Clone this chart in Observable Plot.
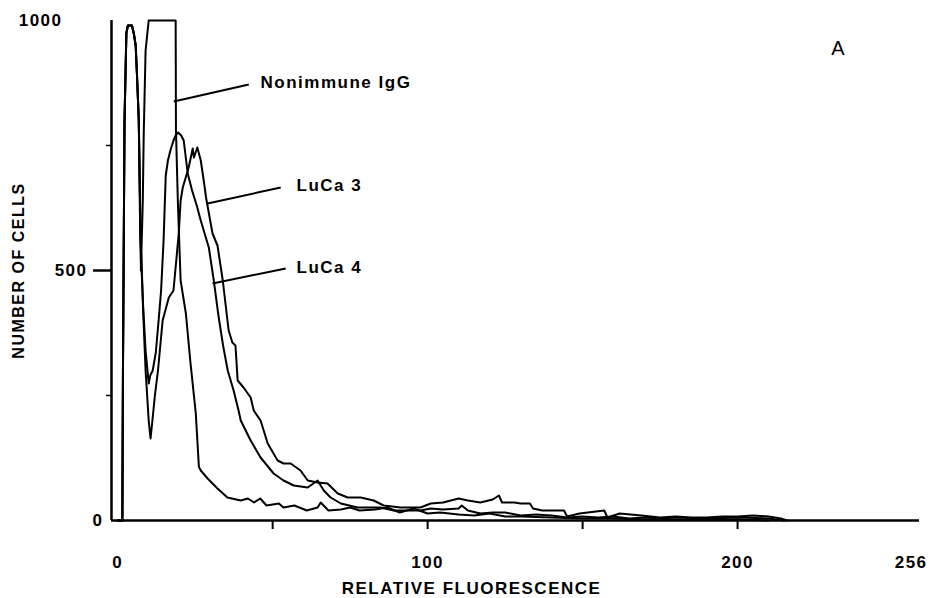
<!DOCTYPE html>
<html>
<head>
<meta charset="utf-8">
<script src="https://cdn.jsdelivr.net/npm/d3@7"></script>
<script src="https://cdn.jsdelivr.net/npm/@observablehq/plot@0.6"></script>
<style>
  html, body { margin: 0; padding: 0; background: #fff; }
  svg { display: block; }
</style>
</head>
<body>
<div id="chart"></div>
<script>
// ---- data (channel = relative fluorescence, count = number of cells) ----
const nonimmuneX = [0, 1.5, 1.7, 2.2, 2.8, 3.3, 4.6, 5.2, 5.8, 6.3, 6.8, 7.2, 7.5, 8.1, 8.4, 9, 10, 18.7, 18.8, 19.4, 20.3, 22, 23.5, 25.2, 26.2, 26.8, 29, 32.2, 35.4, 39.7, 42, 44, 46, 48, 52, 53.5, 57, 61, 64.5, 65.5, 68, 72, 75, 78, 83, 87, 91, 95.5, 100, 104, 110, 115, 120, 125, 130, 140, 150, 160, 170, 180, 190, 200, 210];
const nonimmuneY = [0, 0, 300, 800, 975, 990, 990, 974, 950, 880, 800, 600, 500, 640, 774, 940, 1000, 1000, 780, 640, 480, 414, 314, 214, 107, 100, 84, 64, 46, 40, 44, 36, 44, 30, 34, 26, 30, 20, 26, 36, 20, 22, 26, 20, 22, 26, 16, 24, 14, 16, 12, 10, 14, 8, 8, 6, 4, 4, 2, 2, 2, 2, 0];

const luca3X = [0, 1.5, 1.7, 2.2, 2.8, 3.3, 4.6, 5.2, 5.8, 6.3, 6.8, 7.4, 8.2, 9, 10, 10.6, 11.2, 12, 13, 14.5, 16.5, 18, 19.7, 20.3, 21, 22.9, 24.2, 24.6, 25.7, 26.8, 27.9, 28.5, 30.6, 32.2, 33.9, 35.8, 37, 38, 38.7, 40.6, 42.9, 43.9, 46.1, 48.4, 51.6, 53.5, 55.8, 59, 61.3, 64.5, 67.7, 71, 74.2, 78.4, 82.6, 85.8, 91.3, 97.7, 101, 105, 110, 113, 117, 121, 123, 124, 128, 130, 133, 134, 137, 144, 145, 149, 157, 158, 162, 169, 175, 180, 185, 190, 195, 200, 205, 210, 214, 216];
const luca3Y = [0, 0, 300, 800, 975, 990, 990, 974, 950, 880, 800, 560, 420, 300, 200, 164, 200, 250, 300, 400, 446, 460, 574, 640, 666, 706, 744, 726, 746, 720, 674, 646, 574, 550, 480, 380, 356, 350, 280, 266, 246, 220, 200, 154, 120, 114, 114, 100, 80, 76, 74, 54, 46, 46, 40, 30, 26, 26, 34, 36, 44, 40, 36, 42, 50, 36, 36, 34, 34, 24, 20, 20, 8, 14, 20, 6, 14, 10, 6, 8, 6, 6, 8, 8, 10, 8, 4, 0];

const luca4X = [0, 1.5, 1.7, 2.2, 2.8, 3.3, 4.6, 5.2, 5.8, 6.3, 6.8, 7.4, 8.2, 9, 10, 10.5, 11.3, 12.3, 13.2, 14, 14.8, 15.5, 16.2, 17, 18, 18.7, 19.5, 20.5, 21.3, 22.6, 24, 25.5, 26.8, 28, 29.4, 31, 32.5, 34, 35.5, 37.4, 39, 39.7, 42.9, 46.1, 50.3, 53.5, 56.8, 61.3, 64.5, 66.5, 68.7, 72, 77.4, 84.8, 89, 97.7, 101, 105, 110, 111, 113, 117, 121, 125, 130, 135, 140, 145, 150, 155, 160, 165, 170, 175, 180, 190, 200, 210, 215];
const luca4Y = [0, 0, 300, 800, 975, 990, 990, 974, 950, 880, 800, 560, 430, 340, 274, 290, 300, 336, 400, 460, 560, 690, 720, 740, 760, 770, 776, 770, 760, 694, 660, 630, 600, 575, 546, 480, 410, 350, 300, 260, 220, 200, 160, 126, 94, 80, 70, 66, 80, 60, 46, 34, 26, 26, 20, 20, 24, 22, 24, 30, 20, 14, 16, 16, 10, 12, 10, 6, 8, 6, 8, 4, 6, 4, 6, 4, 6, 4, 0];

const xTickValues = [0, 100, 200, 256];
const xMinorTicks = [50, 100, 150, 200];
const yTickValues = [1000, 500, 0];
const yMinorTicks = [250, 750];

const seriesNames = ["Nonimmune IgG", "LuCa 3", "LuCa 4"];
const labelX = [46.1, 57.7, 57.7];
const labelY = [876, 670, 506];
const leaderFromX = [18.1, 29.0, 30.6];
const leaderFromY = [838, 634, 474];
const leaderToX = [42.3, 52.6, 54.2];
const leaderToY = [872, 666, 504];

const panelLetter = "A";
const panelX = 232.6;
const panelY = 944;

// ---- build tables ----
const toRows = (name, xs, ys) => xs.map((x, i) => ({series: name, x, y: ys[i]}));
const rows = [
  ...toRows(seriesNames[0], nonimmuneX, nonimmuneY),
  ...toRows(seriesNames[1], luca3X, luca3Y),
  ...toRows(seriesNames[2], luca4X, luca4Y)
];
const labels = seriesNames.map((name, i) => ({name, x: labelX[i], y: labelY[i]}));
const leaders = seriesNames.map((name, i) => ({x1: leaderFromX[i], y1: leaderFromY[i], x2: leaderToX[i], y2: leaderToY[i]}));

const xDomain = [-2, 258.7];
const yDomain = [0, 1000];
const font = "'Liberation Sans', Arial, Helvetica, sans-serif";
const yLabelPad = [49, 24, 8];
const fmt = d => String(d);

const chart = Plot.plot({
  width: 934,
  height: 598,
  marginLeft: 111,
  marginRight: 15,
  marginTop: 20,
  marginBottom: 78,
  style: {fontFamily: font, background: "#fff", color: "#000", letterSpacing: "1.5px"},
  x: {domain: xDomain, axis: null},
  y: {domain: yDomain, axis: null},
  marks: [
    // axes lines
    Plot.ruleX([xDomain[0]], {y1: yDomain[0], y2: yDomain[1], stroke: "#000", strokeWidth: 2.5}),
    Plot.ruleY([yDomain[0]], {x1: xDomain[0], x2: xDomain[1], stroke: "#000", strokeWidth: 2.5}),
    // y ticks
    Plot.axisY([500], {anchor: "left", tickSize: 18, tickFormat: () => "", strokeWidth: 2.5, label: null}),
    Plot.axisY(yMinorTicks, {anchor: "left", tickSize: 5, tickFormat: () => "", strokeWidth: 1.5, label: null}),
    ...yTickValues.map((v, i) => Plot.axisY([v], {anchor: "left", tickSize: 0, tickPadding: yLabelPad[i], tickFormat: fmt, fontSize: 17, fontWeight: "bold", label: null})),
    // x ticks
    Plot.axisX(xMinorTicks, {anchor: "bottom", tickSize: 9, tickFormat: () => "", strokeWidth: 2, label: null}),
    Plot.axisX(xTickValues, {anchor: "bottom", tickSize: 0, tickPadding: 35, tickFormat: fmt, fontSize: 17, fontWeight: "bold", label: null}),
    // axis titles
    Plot.text(["RELATIVE FLUORESCENCE"], {frameAnchor: "bottom", textAnchor: "middle", dy: 73, dx: -44, fontSize: 17, fontWeight: "bold", fill: "#000"}),
    Plot.text(["NUMBER OF CELLS"], {frameAnchor: "left", textAnchor: "middle", rotate: -90, dx: -93, fontSize: 16, fontWeight: "bold", fill: "#000"}),
    // histograms
    Plot.line(rows, {x: "x", y: "y", z: "series", stroke: "#000", strokeWidth: 2, curve: "linear"}),
    // annotations
    Plot.link(leaders, {x1: "x1", y1: "y1", x2: "x2", y2: "y2", stroke: "#000", strokeWidth: 2}),
    Plot.text(labels, {x: "x", y: "y", text: "name", textAnchor: "start", fontSize: 17, fontWeight: "bold", fill: "#000"}),
    Plot.text([panelLetter], {x: () => panelX, y: () => panelY, fontSize: 20, fill: "#000"})
  ]
});
document.getElementById("chart").appendChild(chart);
</script>
</body>
</html>
